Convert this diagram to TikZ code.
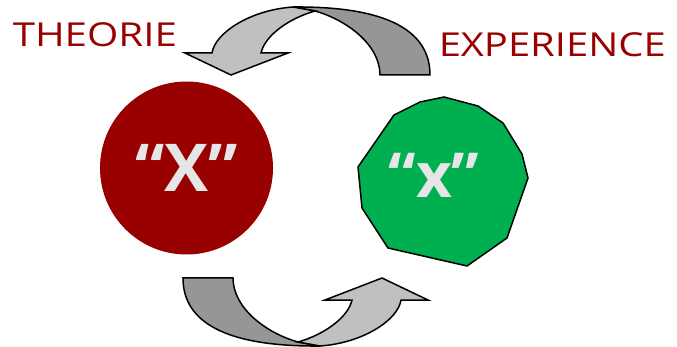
\documentclass[tikz,border=0pt]{standalone}
\usepackage{fontspec}
\setmainfont{Open Sans}
\usetikzlibrary{positioning, calc}

\definecolor{theoryred}{HTML}{990000}
\definecolor{expegreen}{HTML}{00B050}
\definecolor{backgray}{HTML}{969696}
\definecolor{frontgray}{HTML}{C0C0C0}
\definecolor{softgray}{HTML}{E6E6E6}

% ねじれた曲線矢印（上側の向き）
\newcommand{\twistarrow}{%
    \draw [back_band] (293,7) .. controls (400,6) and (430,38) .. (430,75)
        -- (380,75) .. controls (380,45) and (347,20) .. (315,11) -- cycle;
    \draw [front_band] (293,7) .. controls (250,10) and (215,33) .. (212,53)
        -- (185,53) -- (231,75) -- (288,53) -- (261,53)
        .. controls (265,35) and (290,18) .. (315,11) -- cycle;
}

\begin{document}
\begin{tikzpicture}[
    x=1pt, y=-1pt,          % 画素と同じ座標（y は下向き）
    line width=1.5pt,       % 輪郭線
    line join=miter,
    % 円・多角形・文字のスタイル
    theory_dot/.style={circle, fill=theoryred, minimum size=173pt, inner sep=0pt},
    big_text/.style={text=softgray, inner sep=0pt},
    title_text/.style={text=theoryred, font=\fontsize{33}{33}\selectfont,
        anchor=base west, inner sep=0pt},
    back_band/.style={draw=black, fill=backgray},
    front_band/.style={draw=black, fill=frontgray}
]
    \useasboundingbox (0,0) rectangle (677,347);

    % --- 1. 見出し ---
    \node [title_text] (theoryLabel) at (12,47) {\scalebox{1.22}[1]{THEORIE}};
    \node [title_text] (expeLabel) at (438,57) {\scalebox{1.21}[1]{EXPERIENCE}};

    % --- 2. 赤い円（理論） ---
    \node [theory_dot, big_text, font=\fontsize{66}{66}\selectfont\bfseries]
        (theory) at (186.5,168) {“X”};

    % --- 3. 緑の多角形（実験） ---
    \draw [fill=expegreen] (444,97) -- (478,106) -- (503,123) -- (522,154)
        -- (528,178) -- (507,238) -- (467,266) -- (388,248) -- (362,208)
        -- (358,167) -- (394,115) -- (420,102) -- cycle;
    \node [big_text, font=\fontsize{62}{62}\selectfont\bfseries] (expe) at (434,175) {“x”};

    % --- 4. 曲線矢印（上と下） ---
    \twistarrow
    \begin{scope}[rotate around={180:(306.5,176.5)}]
        \twistarrow
    \end{scope}

\end{tikzpicture}
\end{document}
